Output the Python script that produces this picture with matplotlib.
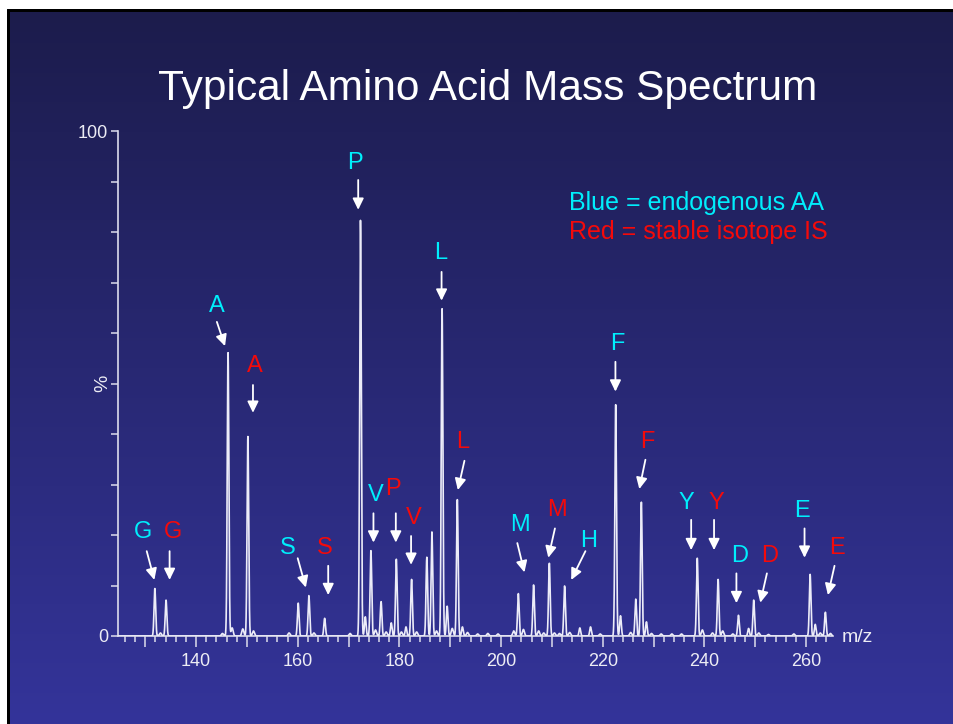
import matplotlib
matplotlib.use("Agg")
import matplotlib.pyplot as plt
import numpy as np
from matplotlib.patches import Rectangle
from matplotlib.ticker import FuncFormatter, MultipleLocator

# main peaks (m/z, relative intensity %)
PEAK_MZ = [131.9, 134.1, 146.3, 150.2, 160.1, 162.2, 165.3, 172.35, 173.3, 174.4,
           176.4, 178.4, 179.4, 181.3, 182.4, 185.4, 186.4, 188.4, 189.4, 191.4,
           192.4, 203.4, 206.4, 209.5, 212.5, 215.5, 217.6, 222.55, 223.5, 226.5,
           227.6, 228.6, 238.6, 242.7, 246.7, 248.7, 249.7, 260.8, 261.8, 263.8]
PEAK_PCT = [9.4, 7.1, 56.1, 39.5, 6.5, 8.0, 3.5, 82.3, 3.8, 16.9,
            6.8, 2.6, 15.2, 1.8, 11.2, 15.6, 20.6, 64.8, 5.9, 27.0,
            1.8, 8.4, 10.1, 14.4, 9.9, 1.6, 1.8, 45.8, 4.0, 7.3,
            26.5, 2.8, 15.4, 11.2, 4.1, 1.5, 7.1, 12.2, 2.3, 4.7]

# baseline noise bumps
NOISE_MZ = [133.0, 145.2, 147.1, 149.2, 151.3, 158.3, 163.2, 170.3, 175.3, 177.4,
            180.4, 183.4, 187.3, 190.4, 193.4, 195.4, 197.4, 199.4, 202.5, 204.4,
            207.4, 208.4, 210.5, 211.5, 213.5, 219.5, 225.5, 229.6, 231.5, 233.6,
            235.5, 239.6, 241.6, 243.6, 245.6, 250.7, 252.6, 257.6, 262.8, 264.8]
NOISE_PCT = [0.6, 0.5, 1.6, 1.4, 1.0, 0.6, 0.6, 0.5, 1.2, 0.8,
             0.8, 0.8, 1.0, 1.5, 0.7, 0.4, 0.5, 0.4, 1.0, 1.3,
             1.0, 0.6, 0.6, 0.5, 0.7, 0.4, 0.7, 0.5, 0.4, 0.4,
             0.4, 1.2, 0.6, 1.0, 0.4, 0.6, 0.3, 0.4, 0.6, 0.5]

# amino acid labels: endogenous ("endo") vs stable isotope internal standard ("is")
AA_LABEL = ["G", "G", "A", "A", "S", "S", "P", "V", "P", "V", "L", "L",
            "M", "M", "H", "F", "F", "Y", "Y", "D", "D", "E", "E"]
AA_KIND = ["endo", "is", "endo", "is", "endo", "is", "endo", "endo", "is", "is", "endo", "is",
           "endo", "is", "endo", "endo", "is", "endo", "is", "endo", "is", "endo", "is"]

# label placement (m/z, %) for text, arrow tail and arrow head
TEXT_XY = [(129.5, 20.5), (135.4, 20.5), (144.1, 65.3), (151.6, 53.5), (158.0, 17.4),
           (165.4, 17.4), (171.3, 93.7), (175.4, 27.9), (178.8, 29.2), (182.8, 23.3),
           (188.1, 75.8), (192.5, 38.5), (203.7, 22.0), (211.1, 25.0), (217.2, 18.9),
           (222.8, 57.8), (228.7, 38.5), (236.4, 26.4), (242.3, 26.4), (246.9, 15.8),
           (252.8, 15.8), (259.2, 24.8), (266.0, 17.4)]
ARROW_FROM = [(130.3, 16.8), (134.8, 16.8), (144.1, 62.2), (151.2, 49.7), (160.0, 15.4),
              (166.0, 13.9), (171.9, 90.3), (174.9, 24.3), (179.3, 24.3), (182.3, 19.8),
              (188.3, 72.1), (192.8, 34.7), (203.2, 18.4), (210.6, 21.3), (216.6, 16.8),
              (222.5, 54.3), (228.4, 34.9), (237.4, 23.0), (241.9, 23.0), (246.3, 12.4),
              (252.3, 12.4), (259.7, 21.3), (265.6, 13.9)]
ARROW_TO = [(131.8, 11.1), (134.8, 11.1), (145.7, 57.4), (151.2, 44.2), (161.6, 9.6),
            (166.0, 8.1), (171.9, 84.4), (174.9, 18.5), (179.3, 18.5), (182.3, 14.1),
            (188.3, 66.4), (191.5, 28.9), (204.6, 12.6), (209.3, 15.5), (213.8, 11.1),
            (222.5, 48.4), (227.2, 29.1), (237.4, 17.0), (241.9, 17.0), (246.3, 6.5),
            (251.0, 6.6), (259.7, 15.5), (264.3, 8.1)]

CYAN = "#00eefc"
RED = "#f40a0a"
AXIS_COL = "#dcdcec"
TEXT_COL = "#ececf4"

W, H = 954, 724


def fx(px):
    return px / W


def fy(py):
    return 1 - py / H


def spectrum(mz_grid):
    y = np.zeros_like(mz_grid)
    for m, h in zip(PEAK_MZ, PEAK_PCT):
        y += h * np.exp(-0.5 * ((mz_grid - m) / 0.16) ** 2)
    for m, h in zip(NOISE_MZ, NOISE_PCT):
        y += h * np.exp(-0.5 * ((mz_grid - m) / 0.2) ** 2)
    return y


plt.rcParams["font.family"] = ["Liberation Sans", "DejaVu Sans"]
fig = plt.figure(figsize=(W / 100, H / 100), dpi=100)
fig.patch.set_facecolor("white")

# slide frame and blue gradient background
frame = fig.add_axes([fx(7), 0, 1 - fx(7), fy(9)], zorder=-2)
frame.add_patch(Rectangle((0, 0), 1, 1, color="black", transform=frame.transAxes))
frame.set_axis_off()
bg = fig.add_axes([fx(10), 0, 1 - fx(10), fy(12)], zorder=-1)
top = np.array([0x1c, 0x1c, 0x4c]) / 255
bot = np.array([0x34, 0x34, 0x9a]) / 255
t = np.linspace(0, 1, 256)[:, None]
grad = (top[None, :] * (1 - t) + bot[None, :] * t)[:, None, :]
bg.imshow(grad, aspect="auto", extent=[0, 1, 0, 1])
bg.set_axis_off()

fig.text(fx(487.5), fy(100), "Typical Amino Acid Mass Spectrum", color="white",
         fontsize=30.5, ha="center", va="baseline")

# spectrum axes
ax = fig.add_axes([fx(118), fy(636), fx(833) - fx(118), fy(131) - fy(636)])
ax.patch.set_alpha(0)
ax.set_xlim(124.65, 265.3)
ax.set_ylim(0, 100)

mz = np.arange(124.7, 265.3, 0.01)
ax.plot(mz, spectrum(mz), color="#ececf8", lw=1.2, zorder=3)

for side in ("top", "right"):
    ax.spines[side].set_visible(False)
for side in ("left", "bottom"):
    ax.spines[side].set_color(AXIS_COL)
    ax.spines[side].set_linewidth(1.2)

ax.xaxis.set_major_locator(MultipleLocator(10))
ax.xaxis.set_minor_locator(MultipleLocator(2))
ax.xaxis.set_major_formatter(FuncFormatter(lambda v, p: f"{v:.0f}" if round(v) % 20 == 0 else ""))
ax.yaxis.set_major_locator(MultipleLocator(10))
ax.yaxis.set_major_formatter(FuncFormatter(lambda v, p: f"{v:.0f}" if round(v) in (0, 100) else ""))
ax.tick_params(axis="x", which="major", length=8, width=1.1, color=AXIS_COL,
               labelcolor=TEXT_COL, labelsize=13, pad=4)
ax.tick_params(axis="x", which="minor", length=4, width=1.1, color=AXIS_COL)
ax.tick_params(axis="y", which="major", length=5, width=1.1, color=AXIS_COL,
               labelcolor=TEXT_COL, labelsize=13, pad=2)

fig.text(fx(103), fy(383), "%", rotation=90, color=TEXT_COL, fontsize=14,
         ha="center", va="center")
fig.text(fx(842), fy(638), "m/z", color=TEXT_COL, fontsize=14, ha="left", va="center")

# amino acid labels with arrows
for lab, kind, txy, a0, a1 in zip(AA_LABEL, AA_KIND, TEXT_XY, ARROW_FROM, ARROW_TO):
    col = CYAN if kind == "endo" else RED
    ax.text(txy[0], txy[1], lab, color=col, fontsize=17, ha="center", va="center",
            clip_on=False, zorder=5)
    ax.annotate("", xy=a1, xytext=a0, annotation_clip=False,
                arrowprops=dict(arrowstyle="-|>,head_length=0.45,head_width=0.22",
                                color="white", lw=1.3, mutation_scale=15,
                                shrinkA=0, shrinkB=0))

fig.text(fx(569), fy(203), "Blue = endogenous AA", color=CYAN, fontsize=18,
         ha="left", va="center")
fig.text(fx(569), fy(232), "Red = stable isotope IS", color=RED, fontsize=18,
         ha="left", va="center")

fig.savefig("out.png", dpi=100, facecolor=fig.get_facecolor())
